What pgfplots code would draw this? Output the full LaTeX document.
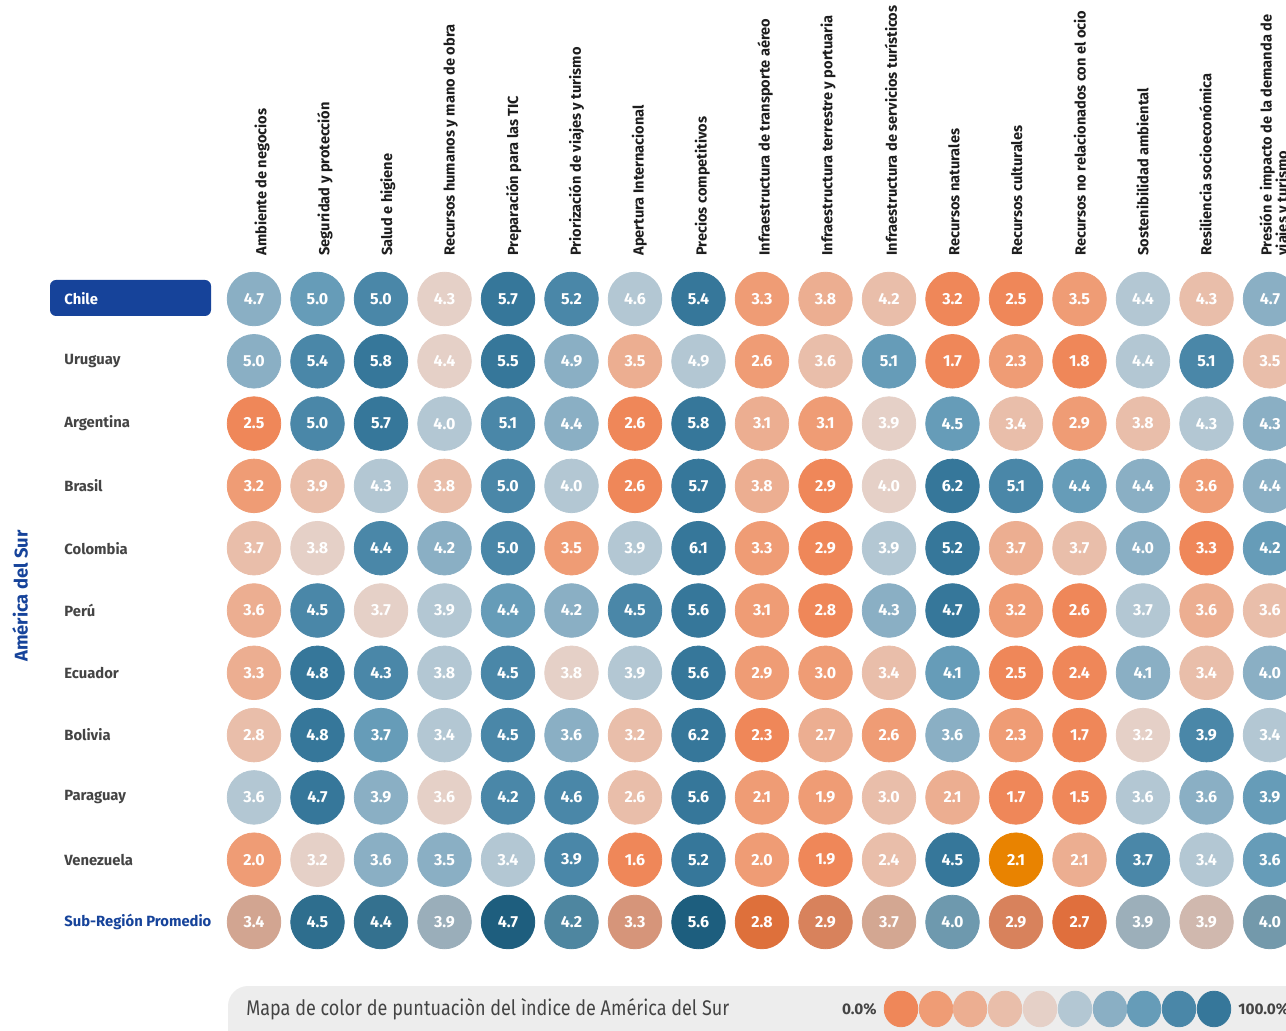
\documentclass[border=0pt]{standalone}
\usepackage{pgfplots}
\pgfplotsset{compat=1.18}
\usepackage{pgfplotstable}
\usepackage{fontspec}
\setmainfont{Fira Sans}[FakeStretch=0.85]
\newfontfamily\plainfont{Fira Sans}
\definecolor{chileblue}{RGB}{22,67,154}
\definecolor{labgray}{RGB}{68,68,68}
\definecolor{headblack}{RGB}{30,30,30}
\definecolor{legbg}{RGB}{237,237,237}
\definecolor{k0}{RGB}{239,135,89}
\definecolor{k1}{RGB}{239,156,117}
\definecolor{k2}{RGB}{236,174,145}
\definecolor{k3}{RGB}{233,190,170}
\definecolor{k4}{RGB}{229,208,199}
\definecolor{k5}{RGB}{179,199,211}
\definecolor{k6}{RGB}{138,175,196}
\definecolor{k7}{RGB}{102,156,184}
\definecolor{k8}{RGB}{74,135,168}
\definecolor{k9}{RGB}{54,119,154}
\definecolor{k10}{RGB}{233,131,0}
\definecolor{k11}{RGB}{210,165,145}
\definecolor{k12}{RGB}{46,110,142}
\definecolor{k13}{RGB}{52,113,143}
\definecolor{k14}{RGB}{154,174,186}
\definecolor{k15}{RGB}{30,94,126}
\definecolor{k16}{RGB}{78,134,160}
\definecolor{k17}{RGB}{214,149,122}
\definecolor{k18}{RGB}{29,94,126}
\definecolor{k19}{RGB}{222,112,59}
\definecolor{k20}{RGB}{216,130,92}
\definecolor{k21}{RGB}{211,167,146}
\definecolor{k22}{RGB}{110,153,174}
\definecolor{k23}{RGB}{216,130,92}
\definecolor{k24}{RGB}{224,111,61}
\definecolor{k25}{RGB}{156,175,186}
\definecolor{k26}{RGB}{208,184,174}
\definecolor{k27}{RGB}{115,153,171}

\pgfplotstableread{
x y v c
0 0 4.7 k6
1 0 5.0 k7
2 0 5.0 k8
3 0 4.3 k4
4 0 5.7 k9
5 0 5.2 k8
6 0 4.6 k5
7 0 5.4 k9
8 0 3.3 k1
9 0 3.8 k2
10 0 4.2 k3
11 0 3.2 k0
12 0 2.5 k0
13 0 3.5 k1
14 0 4.4 k5
15 0 4.3 k3
16 0 4.7 k6
0 -1 5.0 k6
1 -1 5.4 k8
2 -1 5.8 k9
3 -1 4.4 k4
4 -1 5.5 k9
5 -1 4.9 k6
6 -1 3.5 k2
7 -1 4.9 k5
8 -1 2.6 k1
9 -1 3.6 k3
10 -1 5.1 k7
11 -1 1.7 k0
12 -1 2.3 k1
13 -1 1.8 k0
14 -1 4.4 k5
15 -1 5.1 k8
16 -1 3.5 k3
0 -2 2.5 k0
1 -2 5.0 k8
2 -2 5.7 k9
3 -2 4.0 k5
4 -2 5.1 k8
5 -2 4.4 k6
6 -2 2.6 k0
7 -2 5.8 k9
8 -2 3.1 k2
9 -2 3.1 k1
10 -2 3.9 k4
11 -2 4.5 k7
12 -2 3.4 k3
13 -2 2.9 k1
14 -2 3.8 k3
15 -2 4.3 k5
16 -2 4.3 k6
0 -3 3.2 k1
1 -3 3.9 k3
2 -3 4.3 k5
3 -3 3.8 k3
4 -3 5.0 k8
5 -3 4.0 k5
6 -3 2.6 k0
7 -3 5.7 k9
8 -3 3.8 k2
9 -3 2.9 k0
10 -3 4.0 k4
11 -3 6.2 k9
12 -3 5.1 k8
13 -3 4.4 k7
14 -3 4.4 k6
15 -3 3.6 k1
16 -3 4.4 k6
0 -4 3.7 k3
1 -4 3.8 k4
2 -4 4.4 k8
3 -4 4.2 k6
4 -4 5.0 k8
5 -4 3.5 k1
6 -4 3.9 k5
7 -4 6.1 k9
8 -4 3.3 k1
9 -4 2.9 k0
10 -4 3.9 k5
11 -4 5.2 k9
12 -4 3.7 k2
13 -4 3.7 k3
14 -4 4.0 k6
15 -4 3.3 k0
16 -4 4.2 k7
0 -5 3.6 k2
1 -5 4.5 k8
2 -5 3.7 k4
3 -5 3.9 k5
4 -5 4.4 k7
5 -5 4.2 k6
6 -5 4.5 k8
7 -5 5.6 k9
8 -5 3.1 k1
9 -5 2.8 k0
10 -5 4.3 k6
11 -5 4.7 k9
12 -5 3.2 k1
13 -5 2.6 k0
14 -5 3.7 k5
15 -5 3.6 k2
16 -5 3.6 k3
0 -6 3.3 k2
1 -6 4.8 k9
2 -6 4.3 k8
3 -6 3.8 k5
4 -6 4.5 k8
5 -6 3.8 k4
6 -6 3.9 k5
7 -6 5.6 k9
8 -6 2.9 k1
9 -6 3.0 k1
10 -6 3.4 k3
11 -6 4.1 k7
12 -6 2.5 k0
13 -6 2.4 k0
14 -6 4.1 k6
15 -6 3.4 k3
16 -6 4.0 k6
0 -7 2.8 k3
1 -7 4.8 k9
2 -7 3.7 k7
3 -7 3.4 k5
4 -7 4.5 k8
5 -7 3.6 k6
6 -7 3.2 k3
7 -7 6.2 k9
8 -7 2.3 k0
9 -7 2.7 k2
10 -7 2.6 k1
11 -7 3.6 k6
12 -7 2.3 k1
13 -7 1.7 k0
14 -7 3.2 k4
15 -7 3.9 k8
16 -7 3.4 k5
0 -8 3.6 k5
1 -8 4.7 k9
2 -8 3.9 k6
3 -8 3.6 k4
4 -8 4.2 k8
5 -8 4.6 k8
6 -8 2.6 k3
7 -8 5.6 k9
8 -8 2.1 k1
9 -8 1.9 k1
10 -8 3.0 k3
11 -8 2.1 k2
12 -8 1.7 k0
13 -8 1.5 k0
14 -8 3.6 k5
15 -8 3.6 k6
16 -8 3.9 k7
0 -9 2.0 k1
1 -9 3.2 k4
2 -9 3.6 k6
3 -9 3.5 k6
4 -9 3.4 k5
5 -9 3.9 k8
6 -9 1.6 k0
7 -9 5.2 k9
8 -9 2.0 k1
9 -9 1.9 k0
10 -9 2.4 k3
11 -9 4.5 k9
12 -9 2.1 k10
13 -9 2.1 k2
14 -9 3.7 k8
15 -9 3.4 k5
16 -9 3.6 k7
0 -10 3.4 k11
1 -10 4.5 k12
2 -10 4.4 k13
3 -10 3.9 k14
4 -10 4.7 k15
5 -10 4.2 k16
6 -10 3.3 k17
7 -10 5.6 k18
8 -10 2.8 k19
9 -10 2.9 k20
10 -10 3.7 k21
11 -10 4.0 k22
12 -10 2.9 k23
13 -10 2.7 k24
14 -10 3.9 k25
15 -10 3.9 k26
16 -10 4.0 k27
}\data

\pgfplotstableread{
x y c
10.189 -11.396 k0
10.740 -11.396 k1
11.276 -11.396 k2
11.827 -11.396 k3
12.378 -11.396 k4
12.929 -11.396 k5
13.480 -11.396 k6
14.016 -11.396 k7
14.567 -11.396 k8
15.118 -11.396 k9
}\legdata

\pgfplotsset{
  cellclasses/.style={
    scatter/classes={
      k0={mark=*,k0}, k1={mark=*,k1}, k2={mark=*,k2}, k3={mark=*,k3}, k4={mark=*,k4},
      k5={mark=*,k5}, k6={mark=*,k6}, k7={mark=*,k7}, k8={mark=*,k8}, k9={mark=*,k9},
      k10={mark=*,k10}, k11={mark=*,k11}, k12={mark=*,k12}, k13={mark=*,k13}, k14={mark=*,k14},
      k15={mark=*,k15}, k16={mark=*,k16}, k17={mark=*,k17}, k18={mark=*,k18}, k19={mark=*,k19},
      k20={mark=*,k20}, k21={mark=*,k21}, k22={mark=*,k22}, k23={mark=*,k23}, k24={mark=*,k24},
      k25={mark=*,k25}, k26={mark=*,k26}, k27={mark=*,k27}
    }
  }
}

\begin{document}
\begin{tikzpicture}
\useasboundingbox (0pt,0pt) rectangle (643pt,515pt);
\clip (0pt,0pt) rectangle (643pt,515pt);
\begin{scope}[x=0.5pt,y=-0.5pt,yshift=515pt]
  % legend background
  \fill[legbg, rounded corners=10pt] (228,986) rectangle (1330,1070);
  \node[anchor=west, inner sep=0pt, text=labgray, font=\fontsize{10.6}{12}\selectfont] at (246,1009) {Mapa de color de puntuaciòn del ìndice de América del Sur};
  \node[anchor=east, inner sep=0pt, text=labgray, font=\plainfont\bfseries\fontsize{7.7}{9}\selectfont] at (877,1009) {0.0\%};
  \node[anchor=west, inner sep=0pt, text=labgray, font=\plainfont\bfseries\fontsize{7.7}{9}\selectfont] at (1238,1009) {100.0\%};
  % Chile highlight
  \fill[chileblue, rounded corners=3pt] (50,280) rectangle (211,316);
  % row labels
  \node[anchor=west, inner sep=0pt, text=white, font=\plainfont\bfseries\fontsize{7.4}{9}\selectfont] at (64,299) {Chile};
  \foreach \lab [count=\j from 1] in {Uruguay,Argentina,Brasil,Colombia,Perú,Ecuador,Bolivia,Paraguay,Venezuela}{
    \node[anchor=west, inner sep=0pt, text=labgray, font=\plainfont\bfseries\fontsize{7.4}{9}\selectfont] at (64,299+62.3*\j) {\lab};
  }
  \node[anchor=west, inner sep=0pt, text=chileblue, font=\plainfont\bfseries\fontsize{7.4}{9}\selectfont] at (64,922) {Sub-Región Promedio};
  \node[rotate=90, inner sep=0pt, text=chileblue, font=\plainfont\bfseries\fontsize{9.2}{11}\selectfont] at (20,596) {América del Sur};
  % column headers
  \foreach \lab [count=\i from 0] in {Ambiente de negocios,Seguridad y protección,Salud e higiene,Recursos humanos y mano de obra,Preparación para las TIC,Priorización de viajes y turismo,Apertura Internacional,Precios competitivos,Infraestructura de transporte aéreo,Infraestructura terrestre y portuaria,Infraestructura de servicios turísticos,Recursos naturales,Recursos culturales,Recursos no relacionados con el ocio,Sostenibilidad ambiental,Resiliencia socioeconómica}{
    \node[rotate=90, anchor=west, inner sep=0pt, text=headblack, font=\plainfont\bfseries\fontsize{7.3}{8}\selectfont] at (262+62.9*\i,256) {\lab};
  }
  \node[rotate=90, anchor=west, inner sep=0pt, align=left, text=headblack, font=\plainfont\bfseries\fontsize{7.3}{7.8}\selectfont] at (1275,256) {Presión e impacto de la demanda de\\viajes y turismo};
\end{scope}
\begin{axis}[
  at={(111.125pt,38.425pt)}, anchor=south west,
  width=539.75pt, height=342.65pt, scale only axis,
  hide axis, clip=false,
  xmin=-0.5, xmax=16.5, ymin=-10.5, ymax=0.5,
]
\addplot[scatter, only marks, mark=*, mark size=13.4pt, cellclasses,
  point meta=explicit symbolic,
] table[x=x, y=y, meta=c] {\data};
\addplot[only marks, mark=none,
  point meta=explicit symbolic,
  nodes near coords,
  every node near coord/.append style={anchor=center, inner sep=0pt, text=white, font=\plainfont\bfseries\fontsize{8}{9}\selectfont},
] table[x=x, y=y, meta=v] {\data};
\addplot[scatter, only marks, mark=*, mark size=8.4pt, cellclasses,
  mark options={yscale=1.06},
  point meta=explicit symbolic,
] table[x=x, y=y, meta=c] {\legdata};
\end{axis}
\end{tikzpicture}
\end{document}
